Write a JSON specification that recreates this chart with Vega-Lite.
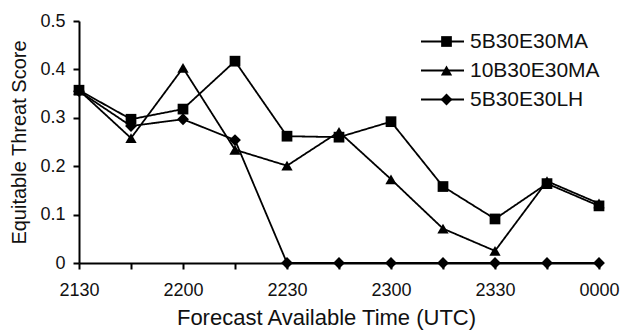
{
  "$schema": "https://vega.github.io/schema/vega-lite/v6.json",
  "width": 520,
  "height": 242,
  "autosize": "none",
  "padding": {"left": 79, "top": 21, "right": 21, "bottom": 68},
  "background": "white",
  "config": {
    "view": {"stroke": null},
    "font": "Liberation Sans",
    "axis": {
      "domainColor": "black", "domainWidth": 2,
      "tickColor": "black", "tickWidth": 2, "tickSize": 6,
      "labelColor": "#111", "titleColor": "#111",
      "labelFont": "Liberation Sans", "titleFont": "Liberation Sans",
      "titleFontWeight": "normal", "grid": false
    }
  },
  "data": {
    "values": [
      {"time": "2130", "series": "5B30E30MA", "ets": 0.357},
      {"time": "2145", "series": "5B30E30MA", "ets": 0.297},
      {"time": "2200", "series": "5B30E30MA", "ets": 0.318},
      {"time": "2215", "series": "5B30E30MA", "ets": 0.417},
      {"time": "2230", "series": "5B30E30MA", "ets": 0.262},
      {"time": "2245", "series": "5B30E30MA", "ets": 0.260},
      {"time": "2300", "series": "5B30E30MA", "ets": 0.292},
      {"time": "2315", "series": "5B30E30MA", "ets": 0.158},
      {"time": "2330", "series": "5B30E30MA", "ets": 0.091},
      {"time": "2345", "series": "5B30E30MA", "ets": 0.164},
      {"time": "0000", "series": "5B30E30MA", "ets": 0.118},
      {"time": "2130", "series": "10B30E30MA", "ets": 0.357},
      {"time": "2145", "series": "10B30E30MA", "ets": 0.258},
      {"time": "2200", "series": "10B30E30MA", "ets": 0.403},
      {"time": "2215", "series": "10B30E30MA", "ets": 0.234},
      {"time": "2230", "series": "10B30E30MA", "ets": 0.201},
      {"time": "2245", "series": "10B30E30MA", "ets": 0.271},
      {"time": "2300", "series": "10B30E30MA", "ets": 0.173},
      {"time": "2315", "series": "10B30E30MA", "ets": 0.071},
      {"time": "2330", "series": "10B30E30MA", "ets": 0.025},
      {"time": "2345", "series": "10B30E30MA", "ets": 0.169},
      {"time": "0000", "series": "10B30E30MA", "ets": 0.123},
      {"time": "2130", "series": "5B30E30LH", "ets": 0.355},
      {"time": "2145", "series": "5B30E30LH", "ets": 0.283},
      {"time": "2200", "series": "5B30E30LH", "ets": 0.297},
      {"time": "2215", "series": "5B30E30LH", "ets": 0.254},
      {"time": "2230", "series": "5B30E30LH", "ets": 0},
      {"time": "2245", "series": "5B30E30LH", "ets": 0},
      {"time": "2300", "series": "5B30E30LH", "ets": 0},
      {"time": "2315", "series": "5B30E30LH", "ets": 0},
      {"time": "2330", "series": "5B30E30LH", "ets": 0},
      {"time": "2345", "series": "5B30E30LH", "ets": 0},
      {"time": "0000", "series": "5B30E30LH", "ets": 0}
    ]
  },
  "encoding": {
    "x": {
      "field": "time", "type": "ordinal", "sort": null,
      "scale": {"type": "point", "padding": 0},
      "axis": {
        "title": "Forecast Available Time (UTC)",
        "labelAngle": 0, "labelFontSize": 18, "labelPadding": 12,
        "labelExpr": "indexof(['2130','2200','2230','2300','2330','0000'], datum.label) >= 0 ? datum.label : ''",
        "titleFontSize": 22, "titlePadding": 8, "titleX": 247
      }
    },
    "y": {
      "field": "ets", "type": "quantitative",
      "scale": {"domain": [0, 0.5], "nice": false},
      "axis": {
        "title": "Equitable Threat Score",
        "values": [0, 0.1, 0.2, 0.3, 0.4, 0.5], "format": ".1~f",
        "labelFontSize": 18, "labelPadding": 8,
        "titleFontSize": 20, "titlePadding": 10
      }
    }
  },
  "layer": [
    {
      "mark": {"type": "line", "color": "black", "strokeWidth": 1.8},
      "encoding": {
        "strokeDash": {
          "field": "series", "type": "nominal",
          "sort": ["5B30E30MA", "10B30E30MA", "5B30E30LH"],
          "scale": {"range": [[1, 0], [1, 0], [1, 0]]},
          "legend": {
            "title": null, "orient": "none", "legendX": 341, "legendY": 6,
            "symbolType": "stroke", "symbolSize": 1849, "symbolStrokeWidth": 2,
            "symbolStrokeColor": "black", "clipHeight": 29, "rowPadding": 0,
            "labelOffset": 5, "labelFontSize": 21, "labelColor": "#111",
            "labelFont": "Liberation Sans", "labelLimit": 300
          }
        }
      }
    },
    {
      "mark": {"type": "point", "filled": true, "color": "black", "opacity": 1},
      "encoding": {
        "shape": {
          "field": "series", "type": "nominal",
          "scale": {"domain": ["5B30E30MA", "10B30E30MA", "5B30E30LH"], "range": ["square", "triangle-up", "diamond"]},
          "legend": {
            "title": null, "orient": "none", "legendX": 357, "legendY": 6,
            "symbolFillColor": "black", "symbolStrokeWidth": 0,
            "clipHeight": 29, "rowPadding": 0,
            "labelFontSize": 21, "labelExpr": "''", "labelLimit": 300
          }
        },
        "size": {
          "field": "series", "type": "nominal",
          "scale": {"domain": ["5B30E30MA", "10B30E30MA", "5B30E30LH"], "range": [115, 140, 64]},
          "legend": {
            "title": null, "orient": "none", "legendX": 357, "legendY": 6,
            "symbolFillColor": "black", "symbolStrokeWidth": 0,
            "clipHeight": 29, "rowPadding": 0,
            "labelFontSize": 21, "labelExpr": "''", "labelLimit": 300
          }
        }
      }
    }
  ]
}
